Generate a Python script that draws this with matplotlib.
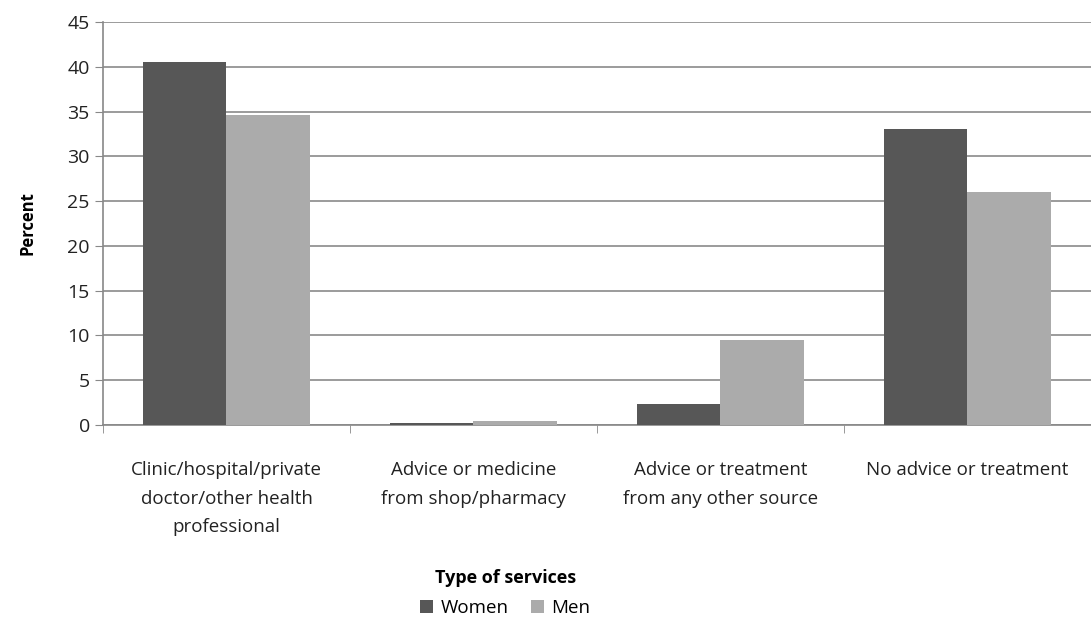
import numpy as np
import matplotlib.pyplot as plt

categories = ['Clinic/hospital/private\ndoctor/other health\nprofessional',
              'Advice or medicine\nfrom shop/pharmacy',
              'Advice or treatment\nfrom any other source',
              'No advice or treatment']
women = [40.5, 0.2, 2.3, 33.1]
men = [34.6, 0.4, 9.5, 26.0]

plt.rcParams['font.family'] = ['Open Sans', 'DejaVu Sans']

fig = plt.figure(figsize=(10.91, 6.19), dpi=100)
ax = fig.add_axes([0.0944, 0.3134, 0.9056, 0.651])

x = np.arange(len(categories))
w = 0.34
ax.bar(x - w / 2, women, w, color='#575757', label='Women', zorder=3)
ax.bar(x + w / 2, men, w, color='#ababab', label='Men', zorder=3)

ax.set_xlim(-0.5, 3.5)
ax.set_ylim(0, 45)
ax.set_yticks(range(0, 46, 5))
ax.yaxis.grid(True, color='#8a8a8a', linewidth=1.2, zorder=0)
ax.set_xticks(x)
ax.set_xticklabels(categories, fontsize=13.5, color='#222222', linespacing=1.75)
ax.set_xticks(np.arange(-0.5, 4.0, 1.0), minor=True)
ax.tick_params(axis='x', which='major', length=0, pad=26)
ax.tick_params(axis='x', which='minor', length=6, color='#888888')
ax.tick_params(axis='y', labelsize=14, length=6, color='#888888', labelcolor='#222222')

for s in ['top', 'right']:
    ax.spines[s].set_visible(False)
for s in ['left', 'bottom']:
    ax.spines[s].set_color('#888888')
    ax.spines[s].set_linewidth(1.2)

ax.set_ylabel('Percent', fontsize=12, fontweight='bold', labelpad=22)
fig.text(0.463, 0.066, 'Type of services', fontsize=13, fontweight='bold',
         ha='center', va='center')
fig.legend(loc='center', bbox_to_anchor=(0.463, 0.018), ncol=2, frameon=False,
           fontsize=13.5, handlelength=0.7, handleheight=0.7, handletextpad=0.4,
           columnspacing=1.2)

fig.savefig('out.png', dpi=100)
